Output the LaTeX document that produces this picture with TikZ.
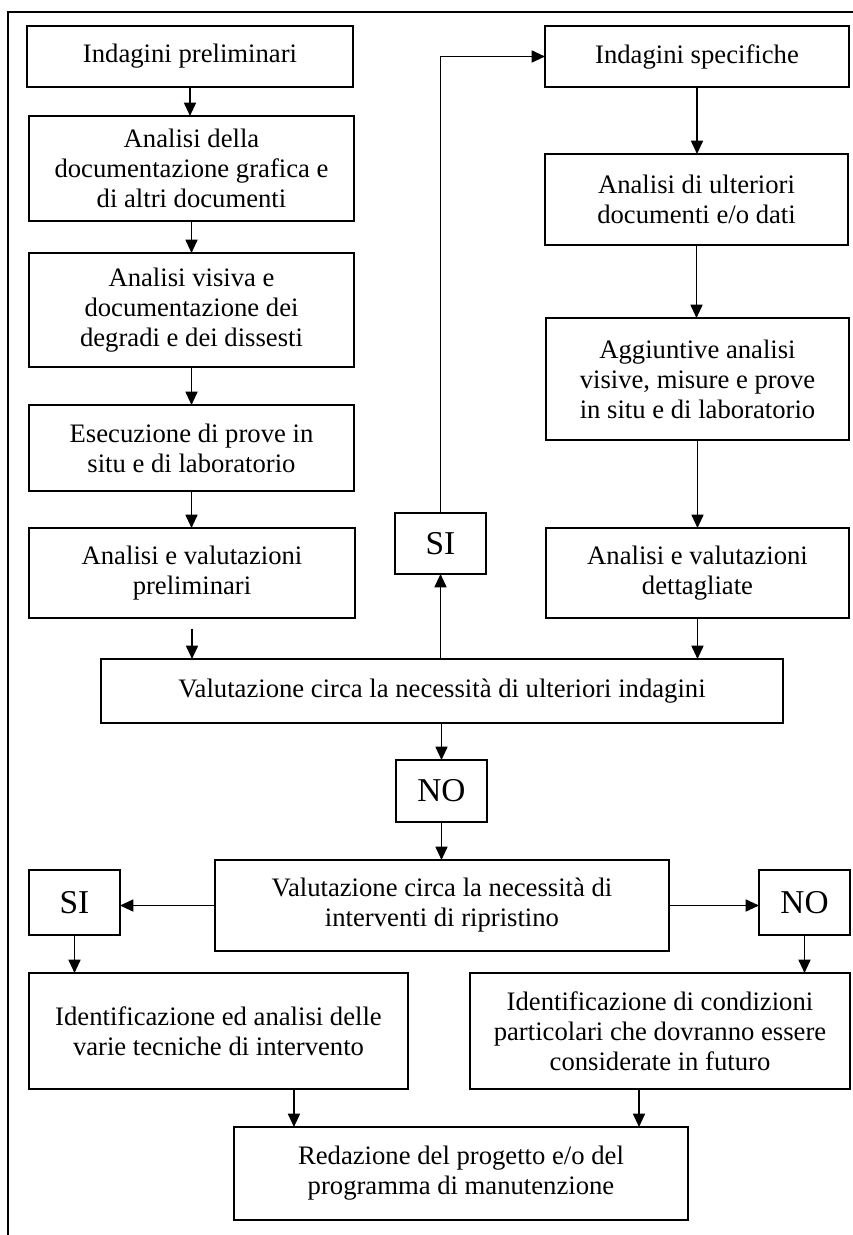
\documentclass[tikz,border=0pt]{standalone}
\usepackage{fontspec}
\setmainfont{Liberation Serif}
\usetikzlibrary{arrows.meta,calc}
\tikzset{
  box/.style={draw, line width=1.5pt, inner sep=0pt, outer sep=0pt, align=center,
    font=\fontsize{20}{22.5}\selectfont},
  big/.style={font=\fontsize{25}{28}\selectfont},
  arr/.style={line width=1.3pt, -{Triangle[length=10pt,width=9pt]}},
  frame/.style={line width=1.5pt}
}
\newcommand\bx[7][]{\node[box, #1, minimum width={(#5-#3)*0.75pt}, minimum height={(#6-#4)*0.75pt}]
  (#2) at ({(#3+#5)/2},{(#4+#6)/2}) {#7};}
\begin{document}
\begin{tikzpicture}[x=0.75pt,y=-0.75pt]
\useasboundingbox (0,0) rectangle (853,1235);
\draw[frame] (853,12) -- (8,12) -- (8,1235);
% left column
\bx{b1}{27}{26}{353}{87}{Indagini preliminari}
\bx{b2}{29}{116}{354}{221}{Analisi della\\documentazione grafica e\\di altri documenti}
\bx{b3}{29}{253}{354}{367}{Analisi visiva e\\documentazione dei\\degradi e dei dissesti}
\bx{b4}{29}{405}{354}{491}{Esecuzione di prove in\\situ e di laboratorio}
\bx{b5}{29}{528}{355}{618}{Analisi e valutazioni\\preliminari}
% right column
\bx{r1}{545}{26}{849}{87}{Indagini specifiche}
\bx{r2}{545}{154}{848}{245}{Analisi di ulteriori\\documenti e/o dati}
\bx{r3}{546}{318}{849}{440}{Aggiuntive analisi\\visive, misure e prove\\in situ e di laboratorio}
\bx{r4}{546}{528}{849}{618}{Analisi e valutazioni\\dettagliate}
% middle
\bx[big]{si1}{395}{513}{486}{574}{SI}
\bx{v1}{101}{659}{783}{723}{Valutazione circa la necessità di ulteriori indagini}
\bx[big]{no1}{396}{760}{487}{822}{NO}
\bx{v2}{215}{860}{669}{951}{Valutazione circa la necessità di\\interventi di ripristino}
\bx[big]{si2}{29}{870}{120}{935}{SI}
\bx[big]{no2}{759}{870}{850}{935}{NO}
\bx{i1}{29}{973}{408}{1089}{Identificazione ed analisi delle\\varie tecniche di intervento}
\bx{i2}{470}{973}{850}{1089}{Identificazione di condizioni\\particolari che dovranno essere\\considerate in futuro}
\bx{red}{234}{1127}{688}{1220}{Redazione del progetto e/o del\\programma di manutenzione}
% arrows left column
\draw[arr] (b1.south) -- (b1.south |- b2.north);
\draw[arr] (b2.south) -- (b2.south |- b3.north);
\draw[arr] (b3.south) -- (b3.south |- b4.north);
\draw[arr] (b4.south) -- (b4.south |- b5.north);
\draw[arr] ([yshift=-8pt]b5.south) -- (b5.south |- v1.north);
% arrows right column
\draw[arr] (r1.south) -- (r1.south |- r2.north);
\draw[arr] (r2.south) -- (r2.south |- r3.north);
\draw[arr] (r3.south) -- (r3.south |- r4.north);
\draw[arr] (r4.south) -- (r4.south |- v1.north);
% middle
\draw[arr] (v1.north -| si1) -- (si1.south);
\draw[arr] (si1.north) |- (r1.west);
\draw[arr] (v1.south -| no1) -- (no1.north);
\draw[arr] (no1.south) -- (no1.south |- v2.north);
\draw[arr] (v2.west) -- (v2.west -| si2.east);
\draw[arr] (v2.east) -- (v2.east -| no2.west);
\draw[arr] (si2.south) -- (si2.south |- i1.north);
\draw[arr] (no2.south) -- (no2.south |- i2.north);
\draw[arr] ([xshift=56.6pt]i1.south) -- ([xshift=56.6pt]i1.south |- red.north);
\draw[arr] ([xshift=-15.75pt]i2.south) -- ([xshift=-15.75pt]i2.south |- red.north);
\end{tikzpicture}
\end{document}
